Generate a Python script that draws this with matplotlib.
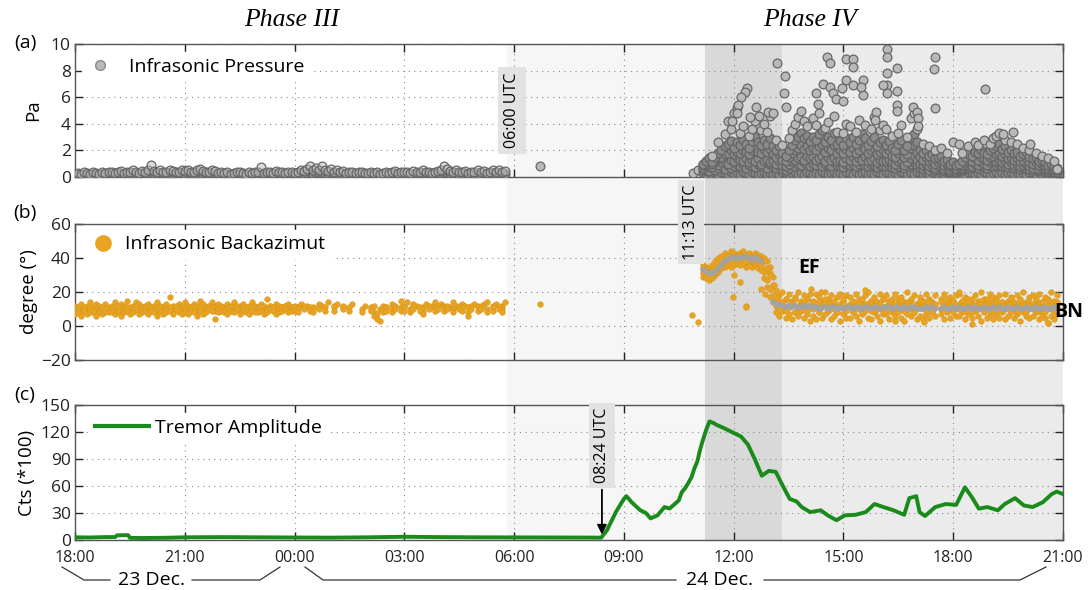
import numpy as np
import matplotlib
matplotlib.use("Agg")
import matplotlib.pyplot as plt
from matplotlib.patches import Rectangle
from matplotlib.lines import Line2D
from matplotlib.transforms import blended_transform_factory

nan = np.nan

# ---------------- data (x = hours since 23 Dec 18:00) ----------------
tick_hours = [0, 3, 6, 9, 12, 15, 18, 21, 24, 27]
tick_labels = ["18:00", "21:00", "00:00", "03:00", "06:00", "09:00",
               "12:00", "15:00", "18:00", "21:00"]

phase_light_start = 11.8      # ~05:48
phase_dark_start = 17.217     # 11:13
phase_dark_end = 19.333       # 13:20
x_end = 27.0

# Panel (a) infrasonic pressure, Phase III, 5-minute samples from 18:00
p3_start, p3_step = 0.0, 1 / 12
p3_vals = [
    .25, .3, .2, .35, .3, .25, .4, .3, .25, .35, .3, .4,
    .35, .3, .4, .45, .3, .35, .4, .5, .35, .3, .45, .4,
    .5, .9, .45, .4, .55, .35, .4, .5, .45, .35, .4, .5,
    .45, .55, .4, .35, .5, .6, .45, .4, .35, .5, .45, .3,
    .35, .3, .4, .25, .3, .35, .4, .3, .25, .35, .3, .4,
    .35, .75, .3, .4, .35, .3, .45, .4, .35, .3, .4, .35,
    .3, .4, .5, .45, .6, .85, .5, .7, .55, .8, .5, .45,
    .6, .4, .5, .35, .45, .3, .4, .35, .3, .4, .35, .3,
    .3, .35, .3, .4, .25, .3, .35, .3, .4, .45, .3, .35,
    .4, .35, .3, .45, .4, .35, .5, .4, .35, .3, .4, .45,
    .5, .85, .6, .45, .4, .5, .35, .4, .45, .3, .35, .4,
    .5, .35, .45, .3, .4, .55, .35, .5, .4, .45]
p3_low = [
    .15, .2, .18, .12, .2, .15, .22, .18, .15, .2, .17, .22,
    .2, .15, .22, .25, .18, .2, .15, .25, .2, .18, .22, .2,
    .25, .3, .2, .22, .28, .2, .25, .22, .2, .25, .22, .28,
    .22, .28, .2, .18, .25, .3, .22, .2, .18, .25, .22, .18,
    .18, .15, .2, .12, .15, .18, .2, .15, .12, .18, .15, .2,
    .18, .25, .15, .2, .18, .15, .22, .2, .18, .15, .2, .18,
    .15, .2, .25, .22, .3, .35, .25, .3, .28, .32, .25, .22,
    .3, .2, .25, .18, .22, .15, .2, .18, .15, .2, .18, .15,
    .15, .18, .15, .2, .12, .15, .18, .15, .2, .22, .15, .18,
    .2, .18, .15, .22, .2, .18, .25, .2, .18, .15, .2, .22,
    .25, .3, .28, .22, .2, .25, .18, .2, .22, .15, .18, .2,
    .25, .18, .22, .15, .2, .28, .18, .25, .2, .22]
p_iso_t = [12.7, 16.9, 17.03]
p_iso_v = [0.85, 0.3, 0.5]

# Phase IV pressure, 5-minute samples from 11:10 (layers of the cloud)
p4_start, p4_step = 17.1667, 1 / 12
p4_low = [
    .3, .2, .35, .25, .3, .2, .4, .3, .25, .35, .2, .3,
    .25, .35, .3, .2, .4, .3, .25, .3, .35, .2, .3, .25,
    .3, .25, .35, .3, .2, .3, .4, .25, .3, .2, .35, .3,
    .25, .3, .2, .35, .3, .25, .3, .4, .2, .3, .25, .35,
    .3, .2, .35, .25, .3, .4, .25, .3, .2, .35, .3, .25,
    .35, .3, .2, .3, .25, .35, .3, .2, .3, .25, .35, .3,
    .2, .3, .25, .35, .3, .2, .3, .25, .35, .3, .2, .25,
    .3, .25, .2, .35, .3, .25, .3, .2, .35, .3, .25, .3,
    .35, .25, .3, .2, .3, .35, .25, .3, .2, .3, .25, .35,
    .3, .25, .35, .2, .3, .25, .3, .35, .3]
p4_lowmid = [
    .5, .6, .45, .7, .55, .65, .8, .6, .9, .7, .85, .95,
    .8, .95, .7, .9, .85, .75, 1.0, .8, .9, .7, .95, .85,
    .7, .8, .6, .55, .7, .9, .85, 1.0, .9, 1.1, .95, .85,
    1.0, .9, 1.1, .85, .95, 1.0, .8, 1.1, .9, .85, .75, .95,
    .9, 1.0, .85, .95, 1.1, .9, .8, .95, 1.0, .75, .9, .85,
    .8, .9, .75, .7, .85, .95, .65, .8, 1.0, 1.1, .9, .7,
    .6, .7, .55, .65, .5, .6, .65, .45, .5, .4, .45, .4,
    .45, .5, .6, .7, .65, .75, .7, .8, .75, .7, .8, .85,
    .9, .95, .8, .85, .75, .8, .7, .75, .6, .65, .7, .6,
    .55, .6, .5, .55, .45, .4, .45, .4, .35]
p4_mid = [
    .7, .8, .9, .75, 1.0, .9, 1.1, 1.2, 1.0, 1.3, 1.2, 1.4,
    1.3, 1.2, 1.4, 1.1, 1.3, 1.2, 1.4, 1.0, 1.2, 1.3, 1.1, 1.2,
    1.0, 1.2, .9, .8, 1.0, 1.2, 1.3, 1.4, 1.5, 1.3, 1.6, 1.4,
    1.5, 1.3, 1.4, 1.6, 1.2, 1.5, 1.3, 1.4, 1.2, 1.3, 1.1, 1.4,
    1.3, 1.5, 1.2, 1.4, 1.3, 1.5, 1.2, 1.3, 1.4, 1.1, 1.3, 1.2,
    1.2, 1.3, 1.1, 1.0, 1.2, 1.3, .9, 1.1, 1.4, 1.6, 1.3, 1.0,
    .9, 1.0, .8, .9, .7, .8, .9, .6, .7, .5, .6, .5,
    .6, .7, .8, .9, .8, 1.0, .9, 1.1, 1.0, .9, 1.1, 1.2,
    1.2, 1.3, 1.1, 1.2, 1.0, 1.1, .9, 1.0, .8, .9, 1.0, .8,
    .7, .8, .6, .7, .6, .5, .6, .5, .4]
p4_midhigh = [
    .9, 1.0, 1.1, .95, 1.2, 1.4, 1.5, 1.7, 1.8, 2.0, 1.7, 1.9,
    1.8, 2.0, 1.9, 1.7, 2.0, 2.2, 1.9, 1.8, 2.1, 1.9, 2.1, 1.7,
    1.5, 1.7, 1.3, 1.2, 1.5, 1.8, 2.0, 2.2, 2.4, 2.1, 2.3, 2.0,
    2.2, 2.0, 2.3, 2.5, 1.9, 2.2, 2.0, 2.4, 1.8, 2.0, 1.8, 2.1,
    1.9, 2.2, 1.8, 2.0, 2.3, 2.1, 1.8, 2.0, 2.2, 1.7, 1.9, 2.0,
    1.8, 2.0, 1.6, 1.5, 1.8, 2.0, 1.5, 1.7, 2.2, 2.4, 1.9, 1.5,
    1.3, 1.5, 1.2, 1.3, 1.0, 1.1, 1.2, .9, 1.0, .8, .85, .7,
    .8, .9, 1.1, 1.3, 1.2, 1.4, 1.3, 1.5, 1.4, 1.3, 1.5, 1.6,
    1.7, 1.8, 1.6, 1.7, 1.4, 1.5, 1.3, 1.4, 1.2, 1.3, 1.4, 1.1,
    1.0, 1.1, .9, 1.0, .8, .7, .75, .6, .55]
p4_high = [
    1.0, 1.2, 1.4, 1.1, 1.5, 1.8, 2.0, 2.3, 2.5, 2.7, 2.2, 2.6,
    2.4, 2.8, 2.5, 2.2, 2.7, 3.0, 2.6, 2.4, 2.8, 2.5, 2.9, 2.3,
    2.0, 2.3, 1.8, 1.6, 2.0, 2.4, 2.8, 3.0, 3.3, 2.9, 3.1, 2.7,
    3.0, 2.8, 3.2, 3.5, 2.6, 3.0, 2.8, 3.3, 2.5, 2.7, 2.4, 2.9,
    2.6, 3.0, 2.5, 2.8, 3.2, 2.9, 2.4, 2.7, 3.0, 2.3, 2.6, 2.8,
    2.4, 2.7, 2.2, 2.0, 2.5, 2.8, 2.0, 2.3, 3.0, 3.2, 2.6, 2.0,
    1.8, 2.0, 1.6, 1.7, 1.4, 1.5, 1.6, 1.2, 1.3, 1.0, 1.1, 0.9,
    1.0, 1.2, 1.5, 1.7, 1.6, 1.9, 1.8, 2.0, 1.8, 1.7, 2.0, 2.2,
    2.3, 2.5, 2.1, 2.3, 1.9, 2.0, 1.8, 1.9, 1.6, 1.7, 1.9, 1.5,
    1.4, 1.5, 1.2, 1.3, 1.1, 0.9, 1.0, 0.8, 0.7]
p4_top = [
    nan, nan, nan, 1.6, nan, 2.6, nan, 3.2, 4.2, 3.6, 4.8, 5.2,
    3.3, 3.8, nan, 3.1, 3.6, 4.2, nan, 3.5, 4.0, 3.4, 4.6, nan,
    2.8, nan, 2.4, nan, 2.9, 3.5, 4.0, 4.5, 5.0, 4.2, 3.8, nan,
    4.4, 3.9, 4.8, nan, 3.7, 4.1, nan, 4.6, 3.4, nan, 3.3, 4.0,
    3.8, nan, 3.4, 4.3, nan, 3.9, nan, 3.6, 4.5, nan, 3.5, 3.9,
    3.6, nan, 3.1, nan, 3.3, 3.9, nan, 3.0, 4.4, 4.8, 3.6, nan,
    2.5, nan, 2.3, nan, 2.0, nan, 2.2, nan, 1.8, nan, 2.6, nan,
    nan, 1.8, nan, 2.3, nan, 2.6, 2.4, nan, 2.8, nan, 2.5, 2.9,
    3.1, 3.3, nan, 2.8, nan, 2.6, nan, 2.5, nan, 2.2, nan, 2.0,
    nan, 1.8, nan, 1.6, nan, 1.4, nan, 1.2, 0.6]
p_out_t = [19.19, 19.40, 19.37, 19.44, 18.37, 18.31, 18.21, 18.11, 18.08,
           20.54, 20.63, 21.07, 21.27, 21.27, 20.45, 20.63, 21.07, 21.27,
           20.95, 21.54, 21.54, 20.26, 20.31, 22.18, 22.18, 22.18, 22.18,
           22.09, 22.18, 22.47, 22.47, 22.47, 22.47, 23.50, 23.48, 23.51,
           24.86, 24.16, 22.90, 23.00, 23.04, 23.04, 21.90, 21.86, 21.49,
           20.72, 20.81, 21.00, 18.62, 18.94, 19.08, 25.64, 25.36, 26.09,
           17.95, 18.45, 18.70]
p_out_v = [8.6, 7.6, 6.3, 5.3, 6.7, 6.4, 6.0, 5.4, 4.8,
           9.0, 8.6, 8.9, 8.9, 8.3, 7.0, 6.8, 7.3, 6.9,
           6.7, 7.3, 6.2, 6.3, 5.5, 9.6, 9.0, 7.8, 6.9,
           6.9, 6.3, 8.2, 6.5, 5.4, 5.0, 9.0, 8.1, 5.2,
           6.6, 2.5, 5.3, 4.9, 4.4, 3.8, 4.9, 4.3, 6.8,
           6.3, 5.9, 5.7, 5.3, 4.9, 4.8, 3.4, 3.2, 2.5,
           4.2, 4.5, 4.6]

# Panel (b) backazimuth, Phase III (5-minute samples, three layers)
b3_up = [
    12, 11, 13, 10, 12, 14, 11, 13, 12, 10, 13, 11,
    12, 14, 11, 13, 12, 15, 11, 12, 14, 13, 11, 12,
    13, 11, 12, 14, 12, 11, 13, 17, 12, 11, 13, 12,
    14, 12, 11, 13, 12, 15, 13, 11, 12, 14, 12, 13,
    12, 11, 13, 12, 14, 11, 12, 13, 11, 12, 14, 12,
    11, 13, 12, 16, 12, 11, 13, 12, 11, 12, 13, 11,
    12, 11, 13, nan, 12, nan, 11, nan, 13, 12, nan, 14,
    nan, 12, 13, nan, 11, nan, nan, 13, nan, nan, nan, 12,
    nan, 11, 12, nan, 10, 12, 11, nan, 13, 12, nan, 15,
    12, 14, nan, 13, 12, nan, 11, 13, nan, 12, 14, nan,
    13, 12, nan, 11, 14, 12, nan, 13, 12, 11, nan, 13,
    12, nan, 13, 14, nan, 12, 13, nan, 12, 14]
b3_mid = [
    9, 10, 8, 11, 9, 10, 8, 10, 9, 11, 8, 10,
    10, 9, 11, 8, 10, 11, 9, 10, 12, 9, 10, 11,
    9, 11, 10, 8, 11, 9, 10, 11, 9, 12, 10, 9,
    10, 9, 11, 10, 8, 11, 9, 10, 12, 11, 9, 10,
    11, 10, 9, 11, 10, 12, 9, 11, 10, 9, 11, 10,
    10, 11, 9, 10, 12, 11, 9, 10, 11, 12, 10, 11,
    11, 10, nan, 12, nan, 11, 10, nan, 12, nan, 11, nan,
    nan, 11, nan, nan, 12, nan, 11, nan, nan, nan, 10, nan,
    nan, 10, 8, 7, nan, 10, 11, nan, 10, 11, nan, 11,
    11, nan, 10, 12, nan, 11, 9, nan, 12, nan, 11, 12,
    nan, 11, 12, nan, 10, nan, 12, 11, nan, 8, 12, nan,
    11, 12, nan, 10, nan, 11, nan, 12, 10, nan]
b3_lo = [
    7, 8, 6, 9, 7, 8, 9, 6, 8, 7, 9, 8,
    8, 7, 9, 6, 8, 9, 7, 8, 10, 7, 8, 9,
    7, 9, 8, 6, 9, 7, 8, 9, 7, 10, 8, 7,
    8, 7, 9, 8, 6, 9, 7, 8, 10, 9, 4, 8,
    9, 8, 7, 9, 8, 10, 7, 9, 8, 7, 9, 8,
    8, 9, 7, 8, 10, 9, 7, 8, 9, 10, 8, 9,
    9, 8, nan, 10, nan, 9, 8, nan, 10, nan, 9, nan,
    nan, 9, nan, nan, 10, nan, 9, nan, nan, nan, 8, nan,
    nan, 9, 6, 4, 3, 8, 9, nan, 8, 10, nan, 9,
    9, nan, 8, 10, nan, 9, 7, nan, 10, nan, 9, 10,
    nan, 9, 10, nan, 8, nan, 10, 9, nan, 6, 10, nan,
    9, 10, nan, 8, nan, 9, nan, 10, 8, nan]
b_iso_t = [12.7, 16.87, 17.02]
b_iso_v = [12.7, 6.2, 2.3]

# Phase IV backazimuth, 5-minute samples from 11:10 (four layers + centre)
b4_hi = [
    36, 35, 34, 36, 38, 40, 41, 43, 42, 44, 43, 42,
    43, 44, 42, 43, 41, 43, 42, 41, 40, 38, 35, 29,
    21, 18, 20, 16, 19, 15, 17, 20, 14, 18, 16, 19,
    15, 19, 17, 14, 20, 16, 18, 13, 17, 19, 15, 18,
    17, 14, 19, 16, 13, 18, 20, 15, 17, 14, 19, 16,
    18, 15, 13, 19, 16, 17, 14, 20, 15, 18, 13, 17,
    15, 19, 16, 14, 18, nan, 16, 19, 14, 17, 15, 18,
    19, 14, 17, 16, 13, 18, 15, 20, 16, 14, 19, 17,
    16, 18, 14, 19, 15, 17, 13, 18, 16, 20, 14, 17,
    18, 15, 19, 14, 17, 16, 20, 15, 18]
b4_u2 = [
    34, 33, 32, 33, 35, 37, 39, 40, 41, 40, 41, 41,
    41, 42, 40, 41, 40, 41, 40, 39, 38, 34, 31, 24,
    17, 15, 13, 16, 12, 14, 16, 11, 15, 13, 16, 12,
    14, 11, 15, 13, 16, 12, 14, 15, 11, 13, 16, 12,
    13, 15, 11, 14, 16, 12, 13, 15, 12, 14, 11, 16,
    12, 14, 16, 11, 13, 15, 12, 14, 16, 11, 13, 15,
    14, 12, 15, 13, 11, nan, 14, 12, 16, 13, 15, 11,
    13, 15, 12, 14, 16, 11, 13, 15, 12, 16, 14, 13,
    15, 12, 14, 11, 13, 16, 14, 12, 15, 13, 11, 14,
    13, 16, 12, 14, 11, 15, 13, 12, 14]
b4_md = [
    31, 30, 29, 30, 32, 34, 36, 38, 39, 38, 39, 39,
    39, 40, 38, 39, 38, 39, 37, 36, 32, 27, 22, 18,
    12, 10, 14, 9, 11, 13, 8, 12, 10, 14, 9, 11,
    10, 12, 8, 11, 13, 9, 12, 10, 8, 11, 13, 9,
    11, 9, 12, 10, 8, 13, 11, 9, 12, 10, 13, 8,
    9, 12, 10, 13, 8, 11, 9, 12, 10, 8, 12, 11,
    12, 9, 11, 8, 13, nan, 10, 12, 9, 11, 8, 12,
    10, 12, 9, 11, 8, 12, 10, 13, 9, 11, 12, 8,
    11, 9, 12, 10, 13, 8, 11, 9, 12, 10, 8, 12,
    10, 12, 9, 11, 8, 12, 10, 9, 11]
b4_lo = [
    29, 28, 27, 28, 30, 32, 34, 35, 36, 35, 36, 37,
    36, 37, 35, 36, 35, 36, 34, 33, 28, 23, 17, 14,
    8, 6, 9, 5, 7, 4, 8, 6, 9, 5, 7, 3,
    6, 4, 8, 5, 7, 9, 4, 6, 8, 3, 7, 5,
    5, 8, 6, 3, 7, 9, 5, 4, 8, 6, 3, 7,
    7, 4, 8, 6, 9, 5, 3, 7, 6, 8, 4, 6,
    4, 7, 5, 8, 6, nan, 7, 4, 8, 5, 9, 6,
    6, 8, 4, 7, 5, 9, 6, 3, 8, 5, 7, 4,
    7, 5, 8, 4, 6, 9, 5, 7, 3, 8, 6, 5,
    6, 8, 4, 7, 5, 2, 6, 4, 7]
b4_gray = [
    33, 32, 31, 31, 32, 34, 36, 38, 39, 40, 40, 40,
    40, 40, 41, 40, 39, 40, 39, 38, nan, nan, nan, 14,
    13, 12, 12, 11, 12, 11, 12, 11, 11, 12, 11, 12,
    11, 11, 10, 11, 11, 10, 11, 11, 10, 11, 10, 11,
    11, 10, 11, 11, 10, 11, 11, 10, 11, 11, 10, 11,
    11, 11, 10, 11, 11, 10, 11, 10, 11, 11, 10, 10,
    10, 11, 10, 11, 10, nan, 10, 11, 10, 10, 11, 10,
    11, 10, 10, 11, 10, 11, 10, 10, 11, 10, 10, 11,
    10, 11, 10, 10, 11, 10, 10, 11, 10, 10, 11, 10,
    10, 11, 10, 10, 11, 10, 10, 11, 10]
b_out_t = [17.98, 18.17, 18.35, 18.0, 18.33, 18.75, 18.85, 19.1, 20.1,
           20.4, 21.6, 24.15, 24.5, 26.6, 22.4, 23.2, 19.0, 18.9]
b_out_v = [17, 26, 12, 30, 11, 22, 19, 24, 22,
           20, 21, 20, 1, 2, 3, 2.5, 30, 34]

# Panel (c) tremor amplitude (Cts*100)
tremor_t = [0.0, 0.4, 0.8, 1.1, 1.15, 1.45, 1.5, 1.8, 2.5, 3.0, 4.0, 5.0,
            6.0, 7.0, 8.0, 9.0, 10.0, 11.0, 12.0, 13.0, 14.0, 14.38,
            14.54, 14.78, 15.0, 15.07, 15.21, 15.45, 15.6, 15.73, 15.92,
            16.11, 16.25, 16.39, 16.5, 16.58, 16.68, 16.77, 16.85, 16.92,
            17.01, 17.08, 17.15, 17.25, 17.34, 17.45, 17.53, 17.7, 17.82,
            18.0, 18.1, 18.2, 18.39, 18.58, 18.77, 18.96, 19.15, 19.34,
            19.53, 19.72, 19.86, 20.09, 20.38, 20.57, 20.81, 21.04, 21.33,
            21.61, 21.85, 22.09, 22.37, 22.66, 22.8, 22.99, 23.08, 23.23,
            23.51, 23.8, 24.08, 24.32, 24.51, 24.7, 24.93, 25.22, 25.41,
            25.69, 25.93, 26.17, 26.45, 26.69, 26.83, 27.0]
tremor_v = [3.0, 2.8, 3.2, 3.3, 5.2, 5.4, 2.4, 2.2, 2.5, 3.0, 3.2, 3.0,
            2.8, 2.6, 3.0, 3.6, 3.2, 3.0, 2.9, 2.8, 2.7, 2.6,
            11, 31, 45.7, 48.7, 42, 33, 30, 24, 27.4,
            36.6, 35, 40, 44, 53, 58, 64, 70, 78.7,
            87.8, 100, 109.8, 122.6, 131.7, 130, 128, 125, 122.6,
            119, 117, 115, 106, 89.6, 71.4, 76.8, 75.7, 60.4,
            45.7, 42.8, 36.6, 31, 33, 27.4, 22, 27.4, 28,
            31, 40, 36.6, 33, 28, 46.5, 48.7, 31, 26.7,
            36.6, 40, 39, 58.5, 47.6, 34.8, 36.6, 33, 40,
            46.5, 38.4, 36.6, 42, 51, 53.8, 51]

# ---------------- figure ----------------
W, H = 1088, 590
plt.rcParams['font.family'] = ['Open Sans', 'DejaVu Sans']
fig = plt.figure(figsize=(W / 100, H / 100), dpi=100)

L, R = 75, 1063
def add_ax(top, bot):
    return fig.add_axes([L / W, 1 - bot / H, (R - L) / W, (bot - top) / H])

axa = add_ax(44, 177)
axb = add_ax(224, 360)
axc = add_ax(405, 540)

# background phase bands spanning all three panels
trans = blended_transform_factory(axa.transData, fig.transFigure)
y0f, y1f = 1 - 540 / H, 1 - 44 / H
for xs, xe, col in [(phase_light_start, phase_dark_start, '#f6f6f6'),
                    (phase_dark_start, phase_dark_end, '#d9d9d9'),
                    (phase_dark_end, x_end, '#ebebeb')]:
    fig.add_artist(Rectangle((xs, y0f), xe - xs, y1f - y0f, transform=trans,
                             facecolor=col, edgecolor='none', zorder=-10))

for ax in (axa, axb, axc):
    ax.set_facecolor('none')
    ax.set_xlim(0, x_end)
    ax.set_xticks(tick_hours)
    ax.grid(True, linestyle=(0, (1, 4)), color='#8a8a8a', linewidth=0.8)
    ax.set_axisbelow(True)
    ax.tick_params(direction='in', length=6, width=1, top=True, right=True,
                   colors='#222222')
    ax.tick_params(axis='x', labelsize=11.5, pad=7)
    ax.tick_params(axis='y', labelsize=12.5, pad=3)
    for s in ax.spines.values():
        s.set_color('#555555')
        s.set_linewidth(1.0)
axa.set_xticklabels([])
axb.set_xticklabels([])
axc.set_xticklabels(tick_labels)

FS_LEG = 14

def legend(ax, handle, label, x, y, htp, hl):
    lg = ax.legend([handle], [label], loc='center left',
                   bbox_to_anchor=(x, y), borderaxespad=0, fontsize=FS_LEG,
                   frameon=True, fancybox=False, framealpha=1,
                   facecolor='white', edgecolor='white', borderpad=0.3,
                   handletextpad=htp, handlelength=hl)
    lg.set_zorder(5)

# (a) pressure
pf, pe = '#b9b9b9', '#676767'
pf_dense = '#8a8a8a'
pf_cloud = (0.72, 0.72, 0.72, 0.5)
p3_t = p3_start + p3_step * np.arange(len(p3_vals))
p4_t = p4_start + p4_step * np.arange(len(p4_low))
kw_p = dict(s=40, facecolor=pf, edgecolor=pe, linewidths=0.9, zorder=3)
kw_d = dict(s=40, facecolor=pf_dense, edgecolor=pe, linewidths=1.0, zorder=3)
kw_c = dict(s=40, facecolor=pf_cloud, edgecolor=pe, linewidths=0.9, zorder=3)
axa.scatter(p3_t, p3_low, **kw_d)
axa.scatter(p3_t, p3_vals, **kw_c)
axa.scatter(p_iso_t, p_iso_v, **kw_p)
for layer in (p4_low, p4_lowmid, p4_mid, p4_midhigh, p4_high):
    axa.scatter(p4_t, layer, **kw_d)
axa.scatter(p4_t, p4_top, **kw_p)
axa.scatter(p_out_t, p_out_v, **kw_p)
axa.set_ylim(0, 10)
axa.set_yticks([0, 2, 4, 6, 8, 10])
axa.set_ylabel('Pa', fontsize=13.5)
axa.yaxis.set_label_coords(-0.033, 0.5)
legend(axa, Line2D([], [], ls='none', marker='o', markersize=7, mfc=pf,
                   mec='#8a8a8a'), 'Infrasonic Pressure', 0.007, 0.83,
       0.8, 1.3)
axa.text(11.94, 5.0, '06:00 UTC', rotation=90, ha='center', va='center',
         fontsize=11.5, zorder=6,
         bbox=dict(boxstyle='square,pad=0.35', fc='#e2e2e2', ec='none'))

# (b) backazimuth
oc = '#e8a322'
kw_b = dict(s=17, facecolor=oc, edgecolor='#d39419', linewidths=0.3, zorder=3)
b3_t = p3_start + p3_step * np.arange(len(b3_up))
b4_t = p4_start + p4_step * np.arange(len(b4_hi))
for layer in (b3_up, b3_mid, b3_lo):
    axb.scatter(b3_t, layer, **kw_b)
axb.scatter(b_iso_t, b_iso_v, **kw_b)
for layer in (b4_hi, b4_lo, b4_u2, b4_md):
    axb.scatter(b4_t, layer, **kw_b)
axb.scatter(b_out_t, b_out_v, **kw_b)
axb.scatter(b4_t, b4_gray, s=18, facecolor='#a2a2a2', edgecolor='none',
            zorder=4)
axb.set_ylim(-20, 60)
axb.set_yticks([-20, 0, 20, 40, 60])
axb.set_ylabel('degree (°)', fontsize=13.5)
axb.yaxis.set_label_coords(-0.037, 0.5)
legend(axb, Line2D([], [], ls='none', marker='o', markersize=11, mfc=oc,
                   mec=oc), 'Infrasonic Backazimut', 0.0101, 0.85, 0.45, 1.3)
axb.text(20.05, 34, 'EF', fontsize=14, fontweight='bold', ha='center',
         va='center', zorder=6)
axb.text(27.15, 8.2, 'BN', fontsize=14, fontweight='bold', ha='center',
         va='center', zorder=6, clip_on=False)

# (c) tremor
gc = '#1a8a1a'
axc.plot(tremor_t, tremor_v, color=gc, lw=2.8, zorder=3)
axc.set_ylim(0, 150)
axc.set_yticks([0, 30, 60, 90, 120, 150])
axc.set_ylabel('Cts (*100)', fontsize=13.5)
axc.yaxis.set_label_coords(-0.039, 0.5)
legend(axc, Line2D([], [], color=gc, lw=3), 'Tremor Amplitude', 0.0142,
       0.83, 0.3, 2.8)
axc.annotate('', xy=(14.4, 3.0), xytext=(14.4, 59),
             arrowprops=dict(arrowstyle='-|>', color='black', lw=1.3,
                             mutation_scale=14), zorder=6)
axc.text(14.4, 105, '08:24 UTC', rotation=90, ha='center', va='center',
         fontsize=11.5, zorder=6,
         bbox=dict(boxstyle='square,pad=0.3', fc='#e2e2e2', ec='none'))

# 11:13 UTC label between panels (a) and (b)
fig.text(691 / W, 1 - 222 / H, '11:13 UTC', rotation=90, ha='center',
         va='center', fontsize=11.5, zorder=6,
         bbox=dict(boxstyle='square,pad=0.3', fc='#e2e2e2', ec='none'))

# panel letters and phase titles
for y, lab in [(43, '(a)'), (213, '(b)'), (395, '(c)')]:
    fig.text(25 / W, 1 - y / H, lab, ha='center', va='center', fontsize=14)
for x, lab in [(292, 'Phase III'), (810, 'Phase IV')]:
    fig.text(x / W, 1 - 20 / H, lab, ha='center', va='center', fontsize=18.5,
             family='Liberation Serif', style='italic')

# date brackets under the time axis
def fig_line(pts):
    xs = [p[0] / W for p in pts]
    ys = [1 - p[1] / H for p in pts]
    fig.add_artist(Line2D(xs, ys, color='#333333', lw=0.9,
                          transform=fig.transFigure))

fig_line([(62, 567), (84, 580), (110, 580)])
fig_line([(192, 580), (260, 580), (280, 567)])
fig_line([(305, 567), (323, 580), (676, 580)])
fig_line([(764, 580), (1020, 580), (1046, 567)])
fig.text(151 / W, 1 - 580 / H, '23 Dec.', ha='center', va='center',
         fontsize=14)
fig.text(720 / W, 1 - 580 / H, '24 Dec.', ha='center', va='center',
         fontsize=14)

fig.savefig('out.png', dpi=100)
